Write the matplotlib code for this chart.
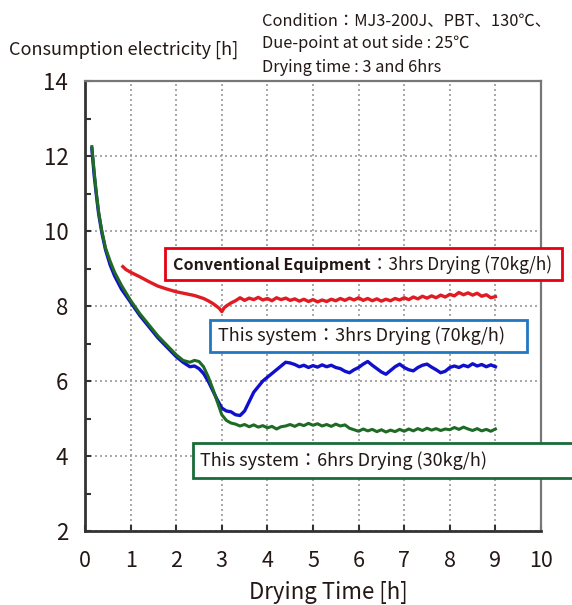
import numpy as np
import matplotlib
matplotlib.use("Agg")
import matplotlib.pyplot as plt
from matplotlib.patches import Rectangle

plt.rcParams['font.family'] = ['Noto Sans CJK JP', 'DejaVu Sans']

# --- data ---
red_x_early = [0.83, 0.9, 1.0, 1.2, 1.4, 1.6, 1.8, 2.0, 2.2, 2.4, 2.6, 2.7, 2.8, 2.9, 2.95, 3.0, 3.05, 3.1, 3.2, 3.3]
red_y_early = [9.05, 8.97, 8.9, 8.78, 8.65, 8.53, 8.45, 8.38, 8.33, 8.28, 8.2, 8.14, 8.07, 7.98, 7.93, 7.85, 7.95, 8.0, 8.08, 8.14]
red_y_flat = [8.22, 8.15, 8.21, 8.17, 8.23, 8.16, 8.2, 8.14, 8.22, 8.17, 8.21, 8.15, 8.19, 8.13, 8.18, 8.12,
              8.17, 8.11, 8.16, 8.12, 8.18, 8.14, 8.2, 8.15, 8.21, 8.16, 8.22, 8.15, 8.2, 8.14, 8.19, 8.13,
              8.18, 8.14, 8.2, 8.16, 8.22, 8.17, 8.24, 8.19, 8.26, 8.21, 8.27, 8.22, 8.29, 8.24, 8.31, 8.27,
              8.36, 8.3, 8.35, 8.29, 8.34, 8.26, 8.3, 8.22, 8.25]

blue_x_early = [0.15, 0.2, 0.25, 0.3, 0.37, 0.45, 0.55, 0.65, 0.8, 1.0, 1.2, 1.4, 1.6, 1.8, 2.0, 2.15, 2.3, 2.4,
                2.5, 2.6, 2.7, 2.8, 2.9, 3.0, 3.1, 3.2, 3.3, 3.4, 3.5, 3.6, 3.7, 3.8, 3.9, 4.0, 4.1, 4.2, 4.3, 4.4, 4.5]
blue_y_early = [12.2, 11.5, 10.95, 10.45, 9.95, 9.5, 9.1, 8.8, 8.45, 8.1, 7.75, 7.45, 7.15, 6.9, 6.65, 6.5, 6.38, 6.4,
                6.33, 6.2, 6.0, 5.75, 5.5, 5.28, 5.2, 5.18, 5.1, 5.08, 5.2, 5.45, 5.7, 5.85, 6.0, 6.1, 6.2, 6.3, 6.4, 6.5, 6.48]
blue_y_flat = [6.44, 6.38, 6.42, 6.36, 6.41, 6.37, 6.43, 6.38, 6.42, 6.36, 6.33, 6.26, 6.22, 6.3, 6.36, 6.45,
               6.52, 6.42, 6.33, 6.24, 6.18, 6.28, 6.38, 6.45, 6.36, 6.3, 6.27, 6.36, 6.42, 6.45, 6.37, 6.3,
               6.22, 6.26, 6.36, 6.4, 6.36, 6.42, 6.38, 6.46, 6.4, 6.44, 6.38, 6.43, 6.38]

green_x_early = [0.15, 0.2, 0.25, 0.3, 0.37, 0.45, 0.55, 0.65, 0.8, 1.0, 1.2, 1.4, 1.6, 1.8, 2.0, 2.15, 2.3, 2.4,
                 2.5, 2.6, 2.7, 2.8, 2.9, 3.0, 3.1, 3.2]
green_y_early = [12.25, 11.6, 11.0, 10.5, 10.0, 9.55, 9.2, 8.9, 8.55, 8.15, 7.8, 7.5, 7.2, 6.95, 6.7, 6.55, 6.5, 6.55,
                 6.52, 6.38, 6.12, 5.8, 5.45, 5.1, 4.95, 4.88]
green_y_flat = [4.85, 4.8, 4.84, 4.78, 4.83, 4.77, 4.81, 4.75, 4.79, 4.72, 4.78, 4.8, 4.84, 4.79, 4.85, 4.81,
                4.87, 4.82, 4.86, 4.8, 4.84, 4.79, 4.85, 4.8, 4.83, 4.74, 4.7, 4.66, 4.72, 4.67, 4.71, 4.65,
                4.7, 4.64, 4.69, 4.65, 4.71, 4.66, 4.72, 4.67, 4.73, 4.68, 4.74, 4.69, 4.73, 4.68, 4.72, 4.7,
                4.76, 4.71, 4.77, 4.72, 4.68, 4.73, 4.67, 4.71, 4.66, 4.72]

def series(x_early, y_early, y_flat):
    step = 0.1
    x_flat = np.round(x_early[-1] + step * np.arange(1, len(y_flat) + 1), 2)
    return np.concatenate([x_early, x_flat]), np.concatenate([y_early, y_flat])

red_x, red_y = series(red_x_early, red_y_early, red_y_flat)
blue_x, blue_y = series(blue_x_early, blue_y_early, blue_y_flat)
green_x, green_y = series(green_x_early, green_y_early, green_y_flat)

x_ticks = list(range(0, 11))
y_ticks = [2, 4, 6, 8, 10, 12, 14]

INK = "#231815"
W, H = 572, 605
fig = plt.figure(figsize=(W / 100, H / 100), dpi=100)
ax = fig.add_axes([85 / W, 1 - 531 / H, 456 / W, 450 / H])

ax.plot(red_x, red_y, color="#e01b22", lw=2.4, zorder=3)
ax.plot(blue_x, blue_y, color="#1010cc", lw=2.4, zorder=3)
ax.plot(green_x, green_y, color="#1f6b25", lw=2.2, zorder=4)

ax.set_xlim(0, 10); ax.set_ylim(2, 14)
ax.set_xticks(x_ticks); ax.set_yticks(y_ticks)
ax.set_yticks([3, 5, 7, 9, 11, 13], minor=True)
ax.grid(True, which="major", color="#999999", linestyle=(0, (1.2, 1.8)), lw=1.2)
ax.tick_params(which="both", direction="in", length=4, width=1.5, color="#333333", labelcolor=INK)
ax.tick_params(axis="y", pad=12, labelsize=16)
ax.tick_params(axis="x", pad=14, labelsize=15.5)
ax.tick_params(which="both", top=False, right=False)
for s in ["left", "bottom"]:
    ax.spines[s].set_color("#333333"); ax.spines[s].set_linewidth(2)
for s in ["top", "right"]:
    ax.spines[s].set_color("#777777"); ax.spines[s].set_linewidth(1.6)

fig.text(9 / W, 1 - 50 / H, "Consumption electricity [h]", fontsize=13, va="center", ha="left", color=INK)
fig.text(328 / W, 1 - 592 / H, "Drying Time [h]", fontsize=16, va="center", ha="center", color=INK)

cond = ["Condition：MJ3-200J、PBT、130℃、", "Due-point at out side : 25℃", "Drying time : 3 and 6hrs"]
for i, line in enumerate(cond):
    fig.text(262 / W, 1 - (21 + 23 * i) / H, line, fontsize=11.8, va="center", ha="left", color=INK)

def box(x0, y0, x1, y1, color):
    fig.patches.append(Rectangle((x0 / W, 1 - y1 / H), (x1 - x0) / W, (y1 - y0) / H, transform=fig.transFigure,
                                 fill=True, facecolor="white", edgecolor=color, lw=2, zorder=5))

box(165, 248, 562, 280, "#e60012")
box(210, 320, 527, 352, "#1f78c1")
box(193, 443, 580, 478, "#1a6b3a")

t1 = fig.text(173 / W, 1 - 265 / H, "Conventional Equipment", fontsize=11.5, va="center", ha="left",
              fontweight="bold", color=INK, zorder=6)
fig.canvas.draw()
bb = t1.get_window_extent()
fig.text(bb.x1 / W, 1 - 265 / H, "：3hrs Drying (70kg/h)", fontsize=12.5, va="center", ha="left",
         color=INK, zorder=6)
fig.text(218 / W, 1 - 336 / H, "This system：3hrs Drying (70kg/h)", fontsize=13, va="center", ha="left",
         color=INK, zorder=6)
fig.text(200 / W, 1 - 461 / H, "This system：6hrs Drying (30kg/h)", fontsize=13, va="center", ha="left",
         color=INK, zorder=6)

fig.savefig("out.png", dpi=100)
